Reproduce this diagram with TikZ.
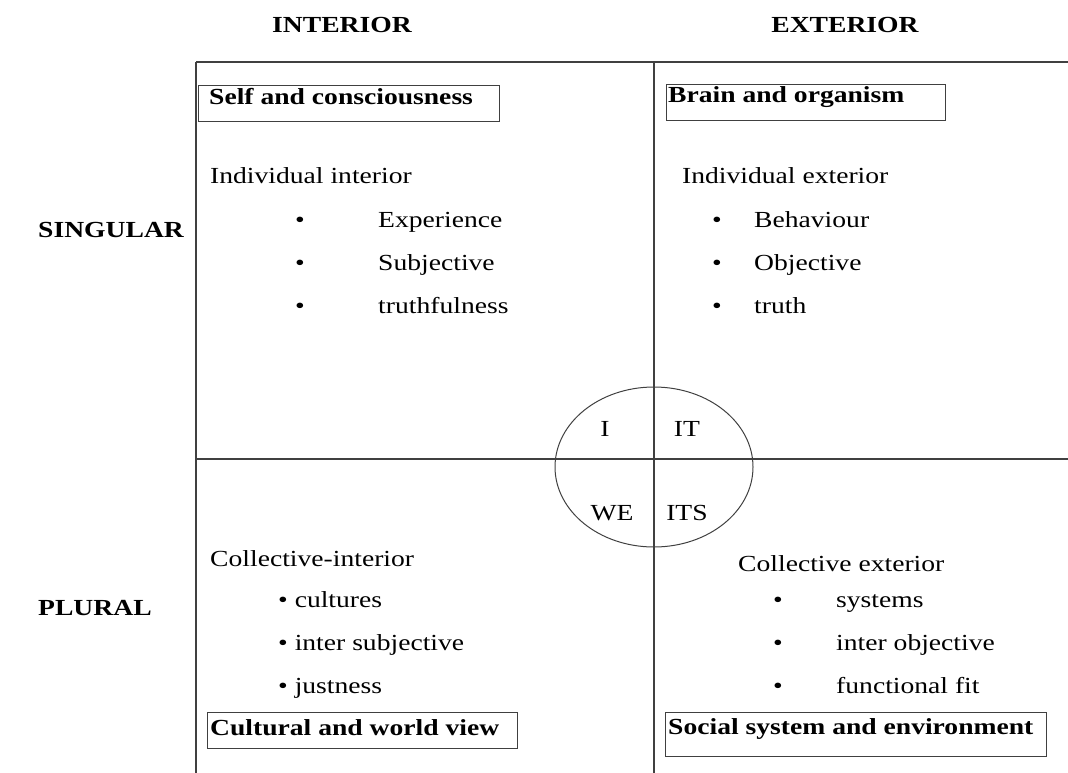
\documentclass[tikz,border=0pt]{standalone}
\usepackage{fontspec}
\setmainfont{Liberation Serif}[FakeStretch=1.2]
\begin{document}
\begin{tikzpicture}[x=1pt,y=-1pt,
  frame/.style={draw=black!75,line width=1.4pt},
  body/.style={inner sep=0pt,anchor=base west,font=\fontsize{23}{27}\selectfont},
  head/.style={inner sep=0pt,anchor=base,font=\fontsize{23}{27}\selectfont\bfseries},
  side/.style={inner sep=0pt,anchor=base west,font=\fontsize{23}{27}\selectfont\bfseries},
  tag/.style={inner sep=0pt,anchor=base west,font=\fontsize{23}{27}\selectfont\bfseries},
  tagbox/.style={draw=black!75,line width=1.2pt,inner sep=0pt,anchor=north west},
  dot/.style={inner sep=0pt,anchor=base,font=\fontsize{23}{27}\selectfont},
  quad/.style={inner sep=0pt,anchor=base,font=\fontsize{23}{27}\selectfont}]
\useasboundingbox (0,0) rectangle (1068,773);

% column and row headings
\node[head] (interior) at (342,33) {INTERIOR};
\node[head] (exterior) at (845,33) {EXTERIOR};
\node[side] (singular) at (38,237) {SINGULAR};
\node[side] (plural) at (38,615) {PLURAL};

% quadrant grid
\draw[frame] (196,62) -- (1068,62);
\draw[frame] (196,62) -- (196,773);
\draw[frame] (654,62) -- (654,773);
\draw[frame] (196,459) -- (1068,459);

% central ellipse
\draw[frame,line width=1pt] (654,467) ellipse [x radius=99,y radius=80];
\node[quad] (qI) at (605,436) {I};
\node[quad] (qIT) at (687,436) {IT};
\node[quad] (qWE) at (612,520) {WE};
\node[quad] (qITS) at (687,520) {ITS};

% boxed quadrant titles
\node[tagbox,minimum width=301pt,minimum height=36pt] (selfbox) at (198,85) {};
\node[tag] (self) at (209,105) {Self and consciousness};
\node[tagbox,minimum width=279pt,minimum height=36pt] (brainbox) at (666,84) {};
\node[tag] (brain) at (668,103) {Brain and organism};
\node[tagbox,minimum width=310pt,minimum height=36pt] (culturebox) at (207,712) {};
\node[tag] (culture) at (210,735) {Cultural and world view};
\node[tagbox,minimum width=381pt,minimum height=44pt] (socialbox) at (665,712) {};
\node[tag] (social) at (668,734) {Social system and environment};

% upper left: individual interior
\node[body] (ii) at (210,183) {Individual interior};
\node[dot] (b1) at (300,227) {•};
\node[body] (ii1) at (378,227) {Experience};
\node[dot] (b2) at (300,270) {•};
\node[body] (ii2) at (378,270) {Subjective};
\node[dot] (b3) at (300,313) {•};
\node[body] (ii3) at (378,313) {truthfulness};

% upper right: individual exterior
\node[body] (ie) at (682,183) {Individual exterior};
\node[dot] (b4) at (717,227) {•};
\node[body] (ie1) at (754,227) {Behaviour};
\node[dot] (b5) at (717,270) {•};
\node[body] (ie2) at (754,270) {Objective};
\node[dot] (b6) at (717,313) {•};
\node[body] (ie3) at (754,313) {truth};

% lower left: collective interior
\node[body] (ci) at (210,566) {Collective-interior};
\node[body] (ci1) at (278,607) {• cultures};
\node[body] (ci2) at (278,650) {• inter subjective};
\node[body] (ci3) at (278,693) {• justness};

% lower right: collective exterior
\node[body] (ce) at (738,571) {Collective exterior};
\node[dot] (b7) at (778,607) {•};
\node[body] (ce1) at (836,607) {systems};
\node[dot] (b8) at (778,650) {•};
\node[body] (ce2) at (836,650) {inter objective};
\node[dot] (b9) at (778,693) {•};
\node[body] (ce3) at (836,693) {functional fit};
\end{tikzpicture}
\end{document}
